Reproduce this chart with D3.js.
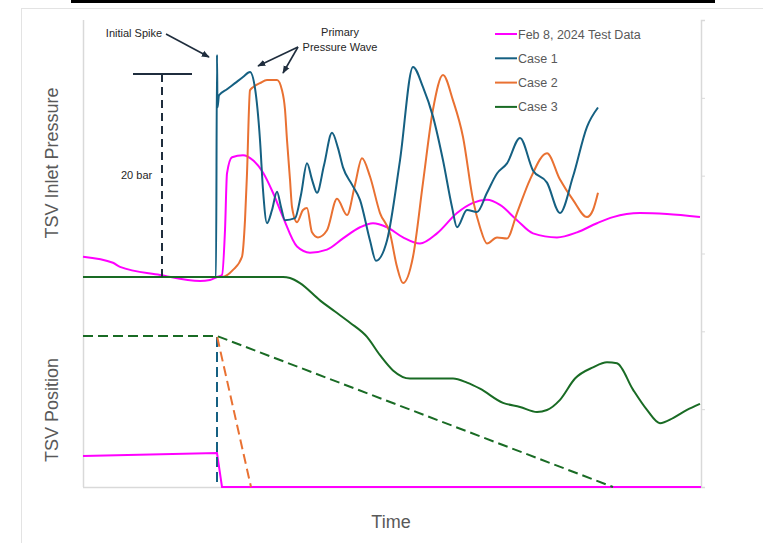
<!DOCTYPE html>
<html><head><meta charset="utf-8">
<script src="https://cdn.jsdelivr.net/npm/d3@7"></script>
<style>
html,body{margin:0;padding:0;background:#fff;}
svg{display:block;font-family:"Liberation Sans",Arial,sans-serif;}
</style></head>
<body><svg id="c" width="763" height="543"></svg>
<script>
// ---- data (time in arbitrary units, pressure in bar relative to initial, position in % open) ----
const seriesNames = ["Feb 8, 2024 Test Data","Case 1","Case 2","Case 3"];
const seriesColors = ["#ff00ff","#156082","#e97132","#196b24"];

const testPressure = [[0,2.0],[15,1.4],[18.5,1.0],[38.5,0.2],[58.5,-0.4],[63.5,-0.3],[67,0],[69.5,0.2],[71,4.6],[72,10.2],[74.5,11.8],[80,12.0],[85,11.5],[90,10.3],[95,8.3],[100,5.9],[107,3.0],[113.5,2.4],[122,2.7],[130,3.8],[138.5,4.9],[145,5.3],[152,4.9],[160,3.9],[168.5,3.3],[177,4.3],[187,6.3],[195,7.3],[202,7.6],[208.5,7.1],[217,5.6],[225,4.3],[237,3.9],[247,4.4],[257,5.3],[265,5.9],[278.5,6.3],[292,6.2],[308.5,5.9]];

const case1Pressure = [[0,0],[66.5,0],[67,21.9],[67.25,16.7],[68,17.9],[72,18.5],[76,19.1],[80,19.7],[83.5,20.2],[86,18.6],[88.5,13.5],[90,8.6],[92,5.3],[94.5,6.6],[97,8.4],[99,6.9],[101,5.6],[106,5.8],[109,8.1],[112,11.2],[114.5,9.6],[117,8.3],[120.5,11.0],[124.5,14.2],[127.5,12.7],[130,10.8],[134.5,9.1],[138.5,7.6],[143.5,3.6],[146.5,1.6],[152,3.6],[158.5,11.5],[165,20.7],[170,18.7],[175,15.8],[180,11.5],[184.5,6.9],[187,4.9],[192,6.6],[197,6.4],[202,8.3],[207,10.2],[212,11.2],[218.5,13.7],[225,10.5],[232,9.3],[238.5,6.3],[245,9.9],[252,14.8],[257.5,16.7]];

const case2Pressure = [[0,0],[67,0],[69.5,0],[75,0.7],[79.5,2.0],[81,5.6],[82,10.2],[83.5,18.4],[85,18.7],[88.5,19.1],[92,19.4],[97,19.4],[99.5,18.4],[101,16.5],[102,13.5],[103.5,9.6],[104.5,6.9],[107,5.4],[110,6.6],[112,6.8],[114.5,4.4],[117.5,3.9],[122,4.6],[127,7.7],[132,6.1],[136,9.1],[139.5,11.7],[143.5,9.9],[148.5,6.3],[153.5,4.3],[157,1.0],[160,-0.6],[165,2.0],[170,9.3],[175,16.5],[180,19.9],[185,17.4],[190,13.8],[195,7.6],[198.5,4.9],[202,3.3],[207,3.9],[212,3.8],[217,6.3],[223.5,9.6],[232,12.2],[238.5,9.6],[245,7.6],[252,5.9],[255,6.6],[257.5,8.3]];

const case3Pressure = [[0,0],[100,0],[103.5,-0.1],[108.5,-0.6],[118.5,-2.3],[126,-3.4],[133.5,-4.5],[142,-5.9],[148.5,-7.7],[155,-9.2],[163.5,-10.0],[173.5,-10.0],[185,-10.0],[192,-10.4],[198.5,-11.0],[210,-12.4],[218.5,-12.8],[227,-13.3],[232,-13.1],[238.5,-12.1],[246,-10.0],[255,-8.9],[262,-8.4],[267,-8.5],[275,-11.1],[282,-13.1],[288.5,-14.4],[295,-13.9],[302,-13.1],[308.5,-12.5]];

const testPosition = [[0,20.5],[67,22.5],[69.5,0],[309,0]];
const case1Position = [[0,100],[67,100],[67,0]];
const case2Position = [[0,100],[67,100],[84,0]];
const case3Position = [[0,100],[67,100],[265,0]];

const scaleBarValue = 20; // "20 bar" marker
const rightTicks = [0,1,2,3,4,5,6];

// ---- scales ----
const svg = d3.select("#c");
const x = d3.scaleLinear().domain([0,309]).range([83,701]);
const yP = d3.scaleLinear().domain([0,20]).range([277,74]);
const yPos = d3.scaleLinear().domain([0,100]).range([487,336]);
const yR = d3.scaleLinear().domain([0,6]).range([487,20]);

// ---- frame ----
svg.append("rect").attr("x",71).attr("y",0).attr("width",644).attr("height",3).attr("fill","#000");
svg.append("line").attr("x1",21).attr("x2",763).attr("y1",8.5).attr("y2",8.5).attr("stroke","#e3e3e3");
svg.append("line").attr("x1",21.5).attr("x2",21.5).attr("y1",8).attr("y2",543).attr("stroke","#e3e3e3");

// ---- axes ----
const axCol = "#d9d9d9";
svg.append("line").attr("x1",83.5).attr("x2",83.5).attr("y1",yR(6)).attr("y2",yR(0)).attr("stroke",axCol).attr("stroke-width",1.5);
svg.append("line").attr("x1",83).attr("x2",701).attr("y1",yR(0)+0.5).attr("y2",yR(0)+0.5).attr("stroke",axCol).attr("stroke-width",1.5);
const ra = svg.append("g").attr("transform","translate(701,0)")
  .call(d3.axisRight(yR).tickValues(rightTicks).tickSize(4).tickFormat(""));
ra.select(".domain").attr("stroke",axCol).attr("stroke-width",1.5);
ra.selectAll(".tick line").attr("stroke",axCol);

// ---- lines ----
const lineP = d3.line().x(d=>x(d[0])).y(d=>yP(d[1])).curve(d3.curveMonotoneX);
const lineS = d3.line().x(d=>x(d[0])).y(d=>yPos(d[1]));

const pressures = [testPressure,case1Pressure,case2Pressure,case3Pressure];
const positions = [testPosition,case1Position,case2Position,case3Position];

// position lines
positions.forEach((p,i)=>{
  svg.append("path").attr("d",lineS(p)).attr("fill","none")
    .attr("stroke",seriesColors[i]).attr("stroke-width",2)
    .attr("stroke-dasharray", i===0 ? null : "10,5");
});
// pressure lines
[0,2,1,3].forEach(i=>{
  svg.append("path").attr("d",lineP(pressures[i])).attr("fill","none")
    .attr("stroke",seriesColors[i]).attr("stroke-width",2).attr("stroke-linejoin","round");
});

// ---- 20 bar marker ----
const ann = "#1f2d3d";
svg.append("line").attr("x1",x(25)).attr("x2",x(54.5)).attr("y1",yP(scaleBarValue)).attr("y2",yP(scaleBarValue))
  .attr("stroke",ann).attr("stroke-width",2);
svg.append("line").attr("x1",x(39.5)).attr("x2",x(39.5)).attr("y1",yP(scaleBarValue)).attr("y2",yP(0))
  .attr("stroke",ann).attr("stroke-width",2).attr("stroke-dasharray","8,5");
svg.append("text").attr("x",x(19)).attr("y",yP(9.7)).attr("fill","#262626").attr("font-size",11)
  .text(scaleBarValue+" bar");

// ---- annotations ----
const defs = svg.append("defs");
defs.append("marker").attr("id","ah").attr("viewBox","0 0 10 10").attr("refX",9).attr("refY",5)
  .attr("markerWidth",8).attr("markerHeight",8).attr("orient","auto").attr("markerUnits","userSpaceOnUse")
  .append("path").attr("d","M0,1 L10,5 L0,9 Z").attr("fill",ann);
function arrow(x1,y1,x2,y2){
  svg.append("line").attr("x1",x1).attr("y1",y1).attr("x2",x2).attr("y2",y2)
    .attr("stroke",ann).attr("stroke-width",1.6).attr("marker-end","url(#ah)");
}
svg.append("text").attr("x",134).attr("y",37).attr("text-anchor","middle").attr("fill","#262626").attr("font-size",11).text("Initial Spike");
arrow(166,34,209,57);
svg.append("text").attr("x",340).attr("y",36).attr("text-anchor","middle").attr("fill","#262626").attr("font-size",11).text("Primary");
svg.append("text").attr("x",340).attr("y",51).attr("text-anchor","middle").attr("fill","#262626").attr("font-size",11).text("Pressure Wave");
arrow(298,47,258,66);
arrow(298,47,283,73);

// ---- axis titles ----
const tCol = "#595959";
svg.append("text").attr("transform","translate(58,163) rotate(-90)").attr("text-anchor","middle")
  .attr("fill",tCol).attr("font-size",18).text("TSV Inlet Pressure");
svg.append("text").attr("transform","translate(58,410) rotate(-90)").attr("text-anchor","middle")
  .attr("fill",tCol).attr("font-size",18).text("TSV Position");
svg.append("text").attr("x",391).attr("y",528).attr("text-anchor","middle")
  .attr("fill",tCol).attr("font-size",18).text("Time");

// ---- legend ----
const lg = svg.append("g");
seriesNames.forEach((n,i)=>{
  const yy = 34 + i*24.3;
  lg.append("line").attr("x1",495).attr("x2",517).attr("y1",yy).attr("y2",yy)
    .attr("stroke",seriesColors[i]).attr("stroke-width",2);
  lg.append("text").attr("x",518).attr("y",yy+4.5).attr("fill",tCol).attr("font-size",12.5).text(n);
});
</script></body></html>
